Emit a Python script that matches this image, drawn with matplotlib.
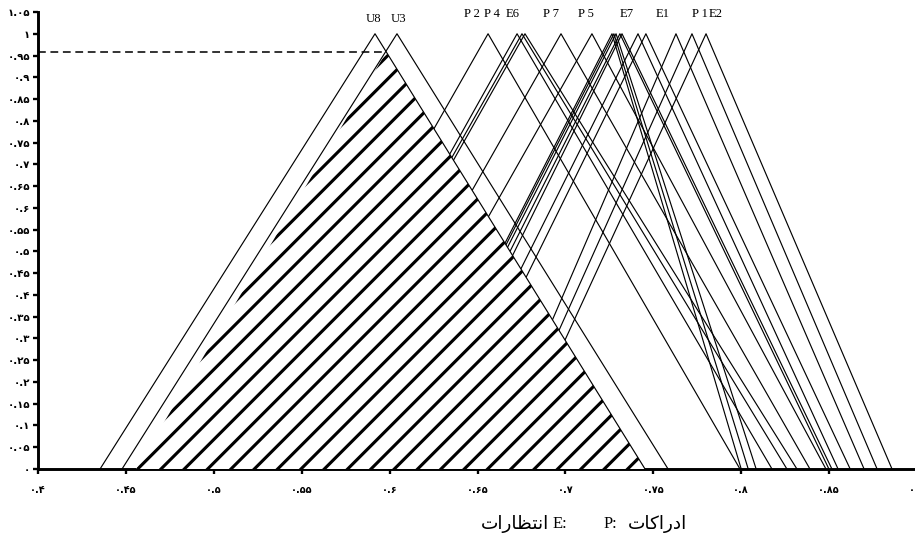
import numpy as np
import matplotlib
matplotlib.use("Agg")
import matplotlib.pyplot as plt
from matplotlib.patches import Polygon

# triangular fuzzy numbers (low, mid, high)
names = ["U8", "U3", "P2", "P4", "E6", "E6b", "P7", "P5", "c1", "c2", "c3", "c4",
         "E7", "c6", "c7", "E1", "P1", "E2"]
lows = [0.4353, 0.4478, 0.515, 0.534, 0.535, 0.537, 0.557, 0.575, 0.600, 0.601,
        0.603, 0.606, 0.610, 0.618, 0.624, 0.656, 0.661, 0.666]
mids = [0.5917, 0.6042, 0.656, 0.6725, 0.6753, 0.677, 0.6975, 0.7151, 0.7265, 0.7276,
        0.7288, 0.7310, 0.7322, 0.7413, 0.7458, 0.7629, 0.7720, 0.7800]
highs = [0.7453, 0.7584, 0.7993, 0.8175, 0.826, 0.8317, 0.8391, 0.8482, 0.8000, 0.8040,
         0.8085, 0.8499, 0.8516, 0.8551, 0.8620, 0.8699, 0.8773, 0.8858]

# peak labels and where they sit on the x axis
label_text = ["U8", "U3", "P 2", "P 4", "E6", "P 7", "P 5", "E7", "E1", "P 1", "E2"]
label_x = [0.5906, 0.6048, 0.6469, 0.6583, 0.6702, 0.6918, 0.7117, 0.735, 0.7555, 0.7766, 0.7857]

# alpha cut (shaded area)
cut_level = 0.958
shade_low = 0.4557

xticks = [0.4, 0.45, 0.5, 0.55, 0.6, 0.65, 0.7, 0.75, 0.8, 0.85, 0.9]
yticks = [0, 0.05, 0.1, 0.15, 0.2, 0.25, 0.3, 0.35, 0.4, 0.45, 0.5, 0.55, 0.6,
          0.65, 0.7, 0.75, 0.8, 0.85, 0.9, 0.95, 1, 1.05]

fa_digits = str.maketrans("0123456789", "۰۱۲۳۴۵۶۷۸۹")


def fa(v):
    return ("%g" % v).translate(fa_digits)


# persian legend words, written with presentation forms in visual order
word_p = "\uFE95\uFE8E\uFB90\uFE8D\uFEAD\uFEA9\uFE8D"          # ادراکات
word_e = "\uFE95\uFE8D\uFEAD\uFE8E\uFEC8\uFE98\uFEE7\uFE8D"    # انتظارات

DPI = 140
plt.rcParams['hatch.linewidth'] = 1.6
plt.rcParams['hatch.color'] = 'black'

fig = plt.figure(figsize=(915 / DPI, 549 / DPI), dpi=DPI)
ax = fig.add_axes([38 / 915, 80 / 549, 879 / 915, 457 / 549])

# triangles (U8 and U3 drawn above the shaded area)
for i in range(len(names)):
    z = 4 if names[i] in ("U8", "U3") else 2
    ax.plot([lows[i], mids[i], highs[i]], [0, 1, 0], color='black', lw=0.6, zorder=z)

# shaded region under U8 right leg
u8 = names.index("U8")
top_x = highs[u8] - (highs[u8] - mids[u8]) * cut_level
shade = Polygon([[shade_low, 0], [top_x, cut_level], [highs[u8], 0]], closed=True,
                facecolor='white', edgecolor='black', lw=0, hatch='//', zorder=3)
ax.add_patch(shade)

ax.plot([0.4, top_x], [cut_level, cut_level], color='black', lw=0.8,
        linestyle=(0, (5, 3)), zorder=5, clip_on=False)

for t, x in zip(label_text, label_x):
    y = 1.021 if t.startswith("U") else 1.032
    ax.text(x, y, t, ha='center', va='bottom', fontsize=6.5,
            family=['Liberation Serif'], zorder=6)

ax.set_xlim(0.4, 0.9)
ax.set_ylim(0, 1.05)
ax.set_xticks(xticks)
ax.set_yticks(yticks)
ax.set_xticklabels([fa(v) for v in xticks], fontsize=5, family=['DejaVu Sans'], fontweight='bold')
ax.set_yticklabels([fa(v) for v in yticks], fontsize=5.3, family=['DejaVu Sans'], fontweight='bold')
ax.tick_params(axis='x', length=2.5, width=1.2, pad=5.5, direction='out')
ax.tick_params(axis='y', length=2.5, width=1.2, pad=1.5, direction='out')
for s in ['top', 'right']:
    ax.spines[s].set_visible(False)
for s in ['left', 'bottom']:
    ax.spines[s].set_linewidth(1.5)

# legend line under the chart
ly = 1 - 524 / 549
fig.text(549 / 915, ly, word_e, ha='right', va='center', fontsize=9.5,
         family=['DejaVu Sans'])
fig.text(553 / 915, ly, "E:", ha='left', va='center', fontsize=8.5,
         family=['Liberation Serif'])
fig.text(604 / 915, ly, "P:", ha='left', va='center', fontsize=8.5,
         family=['Liberation Serif'])
fig.text(628 / 915, ly, word_p, ha='left', va='center', fontsize=9.5,
         family=['DejaVu Sans'])

fig.savefig("out.png", dpi=DPI)
